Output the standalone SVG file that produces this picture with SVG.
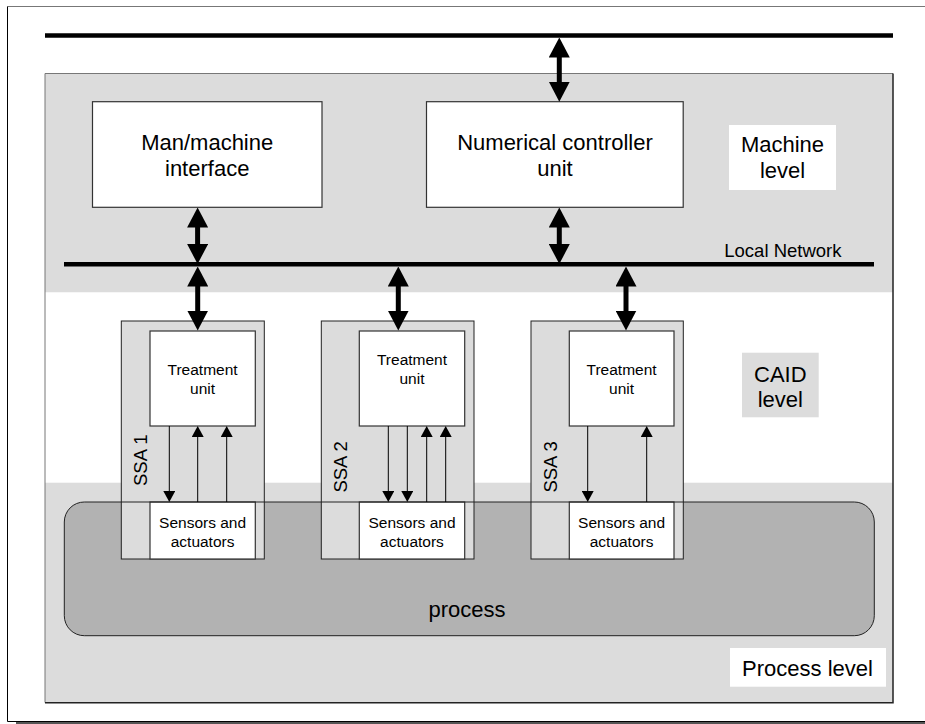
<svg xmlns="http://www.w3.org/2000/svg" width="925" height="724" viewBox="0 0 925 724">
<style>
text{font-family:"Liberation Sans",Arial,sans-serif;fill:#000}
.box{fill:#fff;stroke:#333;stroke-width:1.2}
.ssa{fill:#dcdcdc;stroke:#222;stroke-width:1}
.t22{font-size:22px;text-anchor:middle}
.t15{font-size:15.5px;text-anchor:middle}
.ssal{font-size:18.5px}
.big{stroke:#000;stroke-width:5;fill:none;marker-start:url(#bh);marker-end:url(#bh)}
.sm{stroke:#000;stroke-width:1;fill:none;marker-end:url(#sh)}
.bus{stroke:#000;stroke-width:4.5}
</style>
<defs>
<marker id="bh" markerUnits="userSpaceOnUse" viewBox="0 0 20 21" refX="10" refY="10.5" markerWidth="20" markerHeight="21" orient="auto-start-reverse">
<path d="M0,0 L20,10.5 L0,21 z" fill="#000"/>
</marker>
<marker id="sh" markerUnits="userSpaceOnUse" viewBox="0 0 11 12" refX="5" refY="6" markerWidth="11" markerHeight="12" orient="auto">
<path d="M0,0 L11,6 L0,12 z" fill="#000"/>
</marker>
</defs>
<rect width="925" height="724" fill="#fff"/>
<g id="page">
<rect x="16" y="722" width="909" height="2" fill="#555"/>
<line x1="7.5" y1="6.5" x2="925" y2="6.5" stroke="#777" stroke-width="1"/>
<line x1="7.5" y1="6.5" x2="7.5" y2="721.5" stroke="#000" stroke-width="1"/>
<line x1="7.5" y1="721.5" x2="925" y2="721.5" stroke="#000" stroke-width="1"/>
</g>
<g id="panel">
<rect x="45" y="73.5" width="848" height="219" fill="#dcdcdc"/>
<rect x="45" y="292.5" width="848" height="190.2" fill="#fff"/>
<rect x="45" y="482.7" width="848" height="220" fill="#dcdcdc"/>
<path d="M45,702.5 V73.5 H893" fill="none" stroke="#777" stroke-width="1"/>
<path d="M893,73.5 V702.7 H45" fill="none" stroke="#222" stroke-width="1.5"/>
</g>
<g id="top-bus"><line class="bus" x1="45" y1="35.5" x2="893" y2="35.5"/></g>
<g id="local-network">
<line class="bus" x1="64" y1="264.3" x2="874" y2="264.3"/>
<text x="724.3" y="257.3" style="font-size:18.5px">Local Network</text>
</g>
<g id="man-machine">
<rect class="box" x="92.5" y="101.7" width="229.5" height="105.6"/>
<text class="t22" x="207.2" y="150">Man/machine</text>
<text class="t22" x="207.2" y="176">interface</text>
</g>
<g id="nc-unit">
<rect class="box" x="426.5" y="101.7" width="256.7" height="105.6"/>
<text class="t22" x="555" y="150">Numerical controller</text>
<text class="t22" x="555" y="176">unit</text>
</g>
<g id="machine-level">
<rect x="729" y="125" width="107" height="65" fill="#fff"/>
<text class="t22" x="782.5" y="151.7">Machine</text>
<text class="t22" x="782.5" y="178.3">level</text>
</g>
<g id="caid-level">
<rect x="742" y="352.7" width="76.7" height="64.6" fill="#dcdcdc"/>
<text class="t22" x="780.3" y="381.7">CAID</text>
<text class="t22" x="780.3" y="407.3">level</text>
</g>
<g id="process">
<rect x="64.3" y="502" width="810" height="133.7" rx="20" ry="20" fill="#b2b2b2"/>
</g>
<g id="ssa1">
<rect class="ssa" x="121.3" y="321" width="143" height="238"/>
<rect class="box" x="150" y="331" width="105.3" height="95"/>
<text class="t15" x="202.6" y="375">Treatment</text>
<text class="t15" x="202.6" y="394">unit</text>
<rect class="box" x="150" y="502" width="105.3" height="57"/>
<text class="t15" x="202.6" y="527.7">Sensors and</text>
<text class="t15" x="202.6" y="546.7">actuators</text>
<text class="ssal" transform="translate(146.5,486) rotate(-90)">SSA 1</text>
</g>
<g id="ssa2">
<rect class="ssa" x="321.3" y="321" width="152.7" height="238"/>
<rect class="box" x="359.3" y="331" width="105.4" height="95"/>
<text class="t15" x="412" y="365">Treatment</text>
<text class="t15" x="412" y="384">unit</text>
<rect class="box" x="359.3" y="502" width="105.4" height="57"/>
<text class="t15" x="412" y="527.7">Sensors and</text>
<text class="t15" x="412" y="546.7">actuators</text>
<text class="ssal" transform="translate(346.5,492.6) rotate(-90)">SSA 2</text>
</g>
<g id="ssa3">
<rect class="ssa" x="531" y="321" width="152.3" height="238"/>
<rect class="box" x="569.3" y="331" width="104.7" height="95"/>
<text class="t15" x="621.6" y="375">Treatment</text>
<text class="t15" x="621.6" y="394">unit</text>
<rect class="box" x="569.3" y="502" width="104.7" height="57"/>
<text class="t15" x="621.6" y="527.7">Sensors and</text>
<text class="t15" x="621.6" y="546.7">actuators</text>
<text class="ssal" transform="translate(556.5,492.6) rotate(-90)">SSA 3</text>
</g>
<g id="process-outline">
<rect x="64.3" y="502" width="810" height="133.7" rx="20" ry="20" fill="none" stroke="#222" stroke-width="1"/>
<text class="t22" x="467" y="617.3">process</text>
</g>
<g id="process-level">
<rect x="730" y="648" width="156" height="38.7" fill="#fff"/>
<text class="t22" x="807.5" y="675.7">Process level</text>
</g>
<g id="connectors">
<line class="big" x1="559.3" y1="47.5" x2="559.3" y2="91.7"/>
<line class="big" x1="197.6" y1="217.5" x2="197.6" y2="254"/>
<line class="big" x1="559.3" y1="217.5" x2="559.3" y2="254"/>
<line class="big" x1="197.7" y1="276.5" x2="197.7" y2="320.5"/>
<line class="big" x1="398.3" y1="276.5" x2="398.3" y2="320.5"/>
<line class="big" x1="626" y1="276.5" x2="626" y2="320.5"/>
<line class="sm" x1="169.3" y1="426" x2="169.3" y2="496"/>
<line class="sm" x1="197.7" y1="502" x2="197.7" y2="432"/>
<line class="sm" x1="226.7" y1="502" x2="226.7" y2="432"/>
<line class="sm" x1="388.3" y1="426" x2="388.3" y2="496"/>
<line class="sm" x1="407.3" y1="426" x2="407.3" y2="496"/>
<line class="sm" x1="426.7" y1="502" x2="426.7" y2="432"/>
<line class="sm" x1="445.7" y1="502" x2="445.7" y2="432"/>
<line class="sm" x1="587.7" y1="426" x2="587.7" y2="496"/>
<line class="sm" x1="646.7" y1="502" x2="646.7" y2="432"/>
</g>
</svg>
